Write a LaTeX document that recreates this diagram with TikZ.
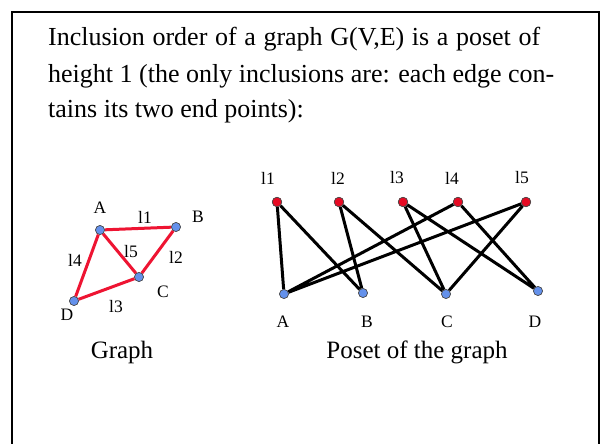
\documentclass[tikz,border=0pt]{standalone}
\usepackage{fontspec}
\setmainfont{Liberation Serif}
\definecolor{vblue}{RGB}{100,145,235}
\definecolor{ered}{RGB}{238,20,50}
\definecolor{nred}{RGB}{230,10,35}
\tikzset{
  vtx/.style={circle,draw=black!70,line width=0.6pt,fill=vblue,minimum size=9pt,inner sep=0pt},
  evtx/.style={circle,draw=black!70,line width=0.6pt,fill=nred,minimum size=9.5pt,inner sep=0pt},
  gedge/.style={ered,line width=3pt},
  pedge/.style={black,line width=3pt},
  lbl/.style={font=\fontsize{17.5}{20}\selectfont,inner sep=0pt},
  big/.style={font=\fontsize{26}{30}\selectfont,inner sep=0pt,anchor=base west},
  captxt/.style={font=\fontsize{25}{30}\selectfont,inner sep=0pt,anchor=base}
}
\begin{document}
\begin{tikzpicture}[x=1pt,y=-1pt]
\useasboundingbox (0,0) rectangle (600,444);
\fill[white] (0,0) rectangle (600,444);
\draw[line width=2pt] (11.5,444) -- (11.5,12.5) -- (598.5,12.5) -- (598.5,444);
\node[big] (t1) at (48,46) {\makebox[492pt][s]{Inclusion order of a graph G(V,E) is a poset of}};
\node[big] (t2) at (48,82) {height 1 (the only inclusions are: each edge con-};
\node[big] (t3) at (48,117.5) {tains its two end points):};
% left graph
\node[vtx] (A) at (100,230) {};
\node[vtx] (B) at (176,227) {};
\node[vtx] (C) at (139,277) {};
\node[vtx] (D) at (74,301) {};
\draw[gedge] (A) -- (B) (B) -- (C) (C) -- (D) (D) -- (A) (A) -- (C);
\node[vtx] at (A) {};
\node[vtx] at (B) {};
\node[vtx] at (C) {};
\node[vtx] at (D) {};
\node[lbl] (la) at (100,208) {A};
\node[lbl] (lb) at (198,217) {B};
\node[lbl] (lc) at (163,292) {C};
\node[lbl] (ld) at (67,315) {D};
\node[lbl] (e1) at (145,217) {l1};
\node[lbl] (e2) at (176,257) {l2};
\node[lbl] (e3) at (116,307) {l3};
\node[lbl] (e4) at (75,260) {l4};
\node[lbl] (e5) at (131,252) {l5};
\node[captxt] (g) at (122,358) {Graph};
% poset
\node[evtx] (p1) at (277,202) {};
\node[evtx] (p2) at (339,202) {};
\node[evtx] (p3) at (403,202) {};
\node[evtx] (p4) at (458,202) {};
\node[evtx] (p5) at (526,202) {};
\node[vtx] (qA) at (284,294) {};
\node[vtx] (qB) at (363,293) {};
\node[vtx] (qC) at (446,294) {};
\node[vtx] (qD) at (538,291) {};
\draw[pedge] (p1) -- (qA) (p1) -- (qB) (p2) -- (qB) (p2) -- (qC)
  (p3) -- (qC) (p3) -- (qD) (p4) -- (qA) (p4) -- (qD) (p5) -- (qA) (p5) -- (qC);
\foreach \n in {p1,p2,p3,p4,p5} \node[evtx] at (\n) {};
\foreach \n in {qA,qB,qC,qD} \node[vtx] at (\n) {};
\node[lbl] (m1) at (268,178) {l1};
\node[lbl] (m2) at (338,178) {l2};
\node[lbl] (m3) at (397,178) {l3};
\node[lbl] (m4) at (452,178) {l4};
\node[lbl] (m5) at (522,178) {l5};
\node[lbl] (na) at (283,322) {A};
\node[lbl] (nb) at (367,322) {B};
\node[lbl] (nc) at (447,322) {C};
\node[lbl] (nd) at (535,322) {D};
\node[captxt] (pg) at (417,358) {Poset of the graph};
\end{tikzpicture}
\end{document}
